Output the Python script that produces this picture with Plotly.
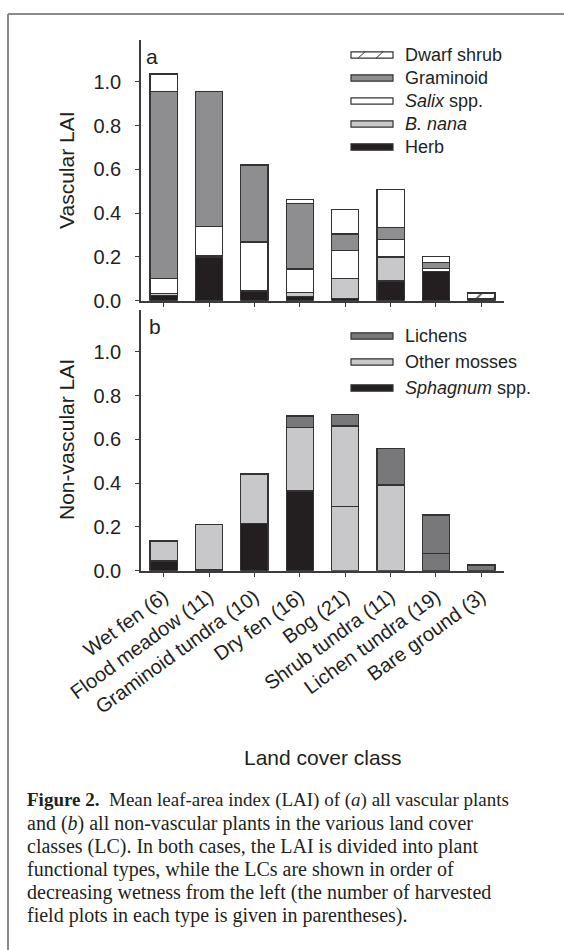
import plotly.graph_objects as go

W, H = 564, 950

# Land cover classes (number of harvested plots in parentheses)
classes = ["Wet fen (6)", "Flood meadow (11)", "Graminoid tundra (10)", "Dry fen (16)",
           "Bog (21)", "Shrub tundra (11)", "Lichen tundra (19)", "Bare ground (3)"]

# Vascular LAI by plant functional type (stacked bottom -> top)
herb = [0.022, 0.200, 0.044, 0.018, 0.010, 0.090, 0.132, 0.004]
b_nana = [0.012, 0.008, 0.000, 0.018, 0.090, 0.110, 0.000, 0.000]
salix = [0.066, 0.130, 0.224, 0.109, 0.130, 0.080, 0.016, 0.006]
graminoid = [0.856, 0.618, 0.352, 0.300, 0.075, 0.053, 0.027, 0.000]
dwarf_shrub = [0.079, 0.000, 0.000, 0.016, 0.112, 0.176, 0.026, 0.025]

# Non-vascular LAI (stacked bottom -> top)
sphagnum = [0.044, 0.005, 0.215, 0.364, 0.292, 0.000, 0.000, 0.000]
other_mosses = [0.092, 0.207, 0.225, 0.289, 0.369, 0.391, 0.079, 0.000]
lichens = [0.000, 0.000, 0.005, 0.053, 0.053, 0.168, 0.175, 0.026]

y_ticks = [0.0, 0.2, 0.4, 0.6, 0.8, 1.0]

BLACK = "#231f20"
LIGHT = "#c8c8ca"
MID = "#8e8e90"
DARK = "#78787a"
WHITE = "#ffffff"
EDGE = "#333333"
AXIS = "#3c3c3c"
SANS = "Liberation Sans, Arial, sans-serif"
SERIF = "Liberation Serif, Times New Roman, serif"


def px(x):
    return x / W


def py(y):
    return 1 - y / H


fig = go.Figure()

# per-bar fills as printed
sphagnum_colors = [BLACK] * len(classes)
sphagnum_colors[4] = LIGHT
other_colors = [LIGHT] * len(classes)
other_colors[6] = DARK
dwarf_patterns = [""] * len(classes)
dwarf_patterns[7] = "/"

top_series = [
    ("Herb", herb, BLACK, None),
    ("<i>B. nana</i>", b_nana, LIGHT, None),
    ("<i>Salix</i> spp.", salix, WHITE, None),
    ("Graminoid", graminoid, MID, None),
    ("Dwarf shrub", dwarf_shrub, WHITE, dwarf_patterns),
]
bottom_series = [
    ("<i>Sphagnum</i> spp.", sphagnum, sphagnum_colors),
    ("Other mosses", other_mosses, other_colors),
    ("Lichens", lichens, DARK),
]

for name, vals, color, pat in top_series:
    marker = dict(color=color, line=dict(color=EDGE, width=1.2))
    if pat is not None:
        marker["pattern"] = dict(shape=pat, size=12, solidity=0.12,
                                 fgcolor=EDGE, bgcolor=WHITE, fillmode="replace")
    fig.add_trace(go.Bar(x=classes, y=vals, name=name, marker=marker, width=0.6,
                         xaxis="x", yaxis="y", showlegend=False))

for name, vals, color in bottom_series:
    fig.add_trace(go.Bar(x=classes, y=vals, name=name, width=0.6,
                         marker=dict(color=color, line=dict(color=EDGE, width=1.2)),
                         xaxis="x2", yaxis="y2", showlegend=False))

x_dom = [px(141), px(504)]
axis_common = dict(showline=True, linecolor=AXIS, linewidth=1.5, ticks="outside",
                   tickcolor=AXIS, tickwidth=1.2, showgrid=False, zeroline=False,
                   automargin=False,
                   tickfont=dict(family=SANS, size=20, color=BLACK))

fig.update_layout(
    template="none",
    width=W, height=H, margin=dict(l=0, r=0, t=0, b=0, pad=0),
    paper_bgcolor="white", plot_bgcolor="white", barmode="stack",
    xaxis=dict(domain=x_dom, anchor="y", range=[-0.5, 7.5], showticklabels=False,
               ticklen=5, **axis_common),
    yaxis=dict(domain=[py(300.7), py(40.1)], anchor="x", range=[0, 1.19],
               tickvals=y_ticks, tickformat=".1f", ticklen=4, ticklabelstandoff=10,
               **axis_common),
    xaxis2=dict(domain=x_dom, anchor="y2", range=[-0.5, 7.5], tickangle=-36,
                ticklen=5, **axis_common),
    yaxis2=dict(domain=[py(570.7), py(310.1)], anchor="x2", range=[0, 1.19],
                tickvals=y_ticks, tickformat=".1f", ticklen=4, ticklabelstandoff=10,
                **axis_common),
)

shapes = []
annotations = []

# page frame
shapes.append(dict(type="line", xref="paper", yref="paper", x0=px(8), x1=1,
                   y0=py(14), y1=py(14), line=dict(color="#8a8a8a", width=2)))
shapes.append(dict(type="line", xref="paper", yref="paper", x0=px(8), x1=px(8),
                   y0=0, y1=py(14), line=dict(color="#8a8a8a", width=2)))


def legend_item(label, fill, cy, hatch=False):
    shapes.append(dict(type="rect", xref="paper", yref="paper",
                       x0=px(351), x1=px(393), y0=py(cy + 3.2), y1=py(cy - 3.2),
                       fillcolor=fill, line=dict(color=EDGE, width=1.2)))
    if hatch:
        for xs in (358, 376):
            shapes.append(dict(type="line", xref="paper", yref="paper",
                               x0=px(xs), x1=px(xs + 7), y0=py(cy + 3.2), y1=py(cy - 3.2),
                               line=dict(color=EDGE, width=1)))
    annotations.append(dict(text=label, xref="paper", yref="paper", x=px(403), y=py(cy),
                            xanchor="left", yanchor="middle", showarrow=False,
                            font=dict(family=SANS, size=18, color=BLACK)))


top_legend = [
    ("Dwarf shrub", WHITE, True),
    ("Graminoid", MID, False),
    ("<i>Salix</i> spp.", WHITE, False),
    ("<i>B. nana</i>", LIGHT, False),
    ("Herb", BLACK, False),
]
for i, (label, fill, hatch) in enumerate(top_legend):
    legend_item(label, fill, 55 + i * 23, hatch)

bottom_legend = [
    ("Lichens", DARK),
    ("Other mosses", LIGHT),
    ("<i>Sphagnum</i> spp.", BLACK),
]
for i, (label, fill) in enumerate(bottom_legend):
    legend_item(label, fill, 336 + i * 26)

# axis titles and panel letters
annotations += [
    dict(text="Vascular LAI", x=px(66), y=py(170), textangle=-90),
    dict(text="Non-vascular LAI", x=px(66), y=py(440), textangle=-90),
    dict(text="Land cover class", x=px(322.5), y=py(757)),
    dict(text="a", x=px(152), y=py(56)),
    dict(text="b", x=px(155), y=py(326)),
]
for a in annotations[-5:]:
    a.update(xref="paper", yref="paper", showarrow=False, xanchor="center",
             yanchor="middle", font=dict(family=SANS, size=21, color=BLACK))

caption = [
    "<b>Figure 2.</b>  Mean leaf-area index (LAI) of (<i>a</i>) all vascular plants",
    "and (<i>b</i>) all non-vascular plants in the various land cover",
    "classes (LC). In both cases, the LAI is divided into plant",
    "functional types, while the LCs are shown in order of",
    "decreasing wetness from the left (the number of harvested",
    "field plots in each type is given in parentheses).",
]
for i, line in enumerate(caption):
    annotations.append(dict(text=line, xref="paper", yref="paper", x=px(25),
                            y=py(800 + i * 23), xanchor="left", yanchor="middle",
                            showarrow=False,
                            font=dict(family=SERIF, size=19 if i == 0 else 20,
                                      color=BLACK)))

fig.update_layout(shapes=shapes, annotations=annotations)
fig.write_html("out.html")
